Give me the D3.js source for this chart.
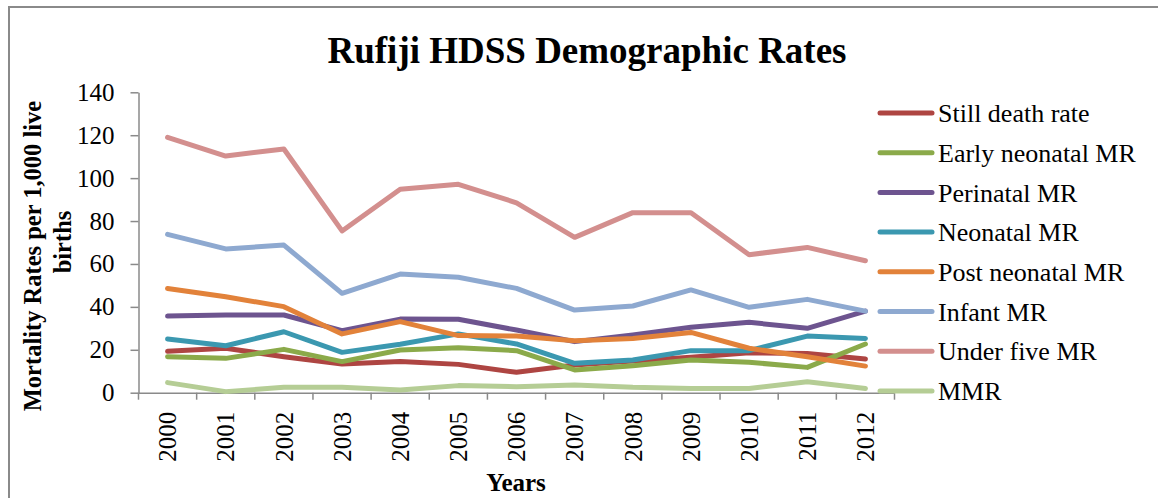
<!DOCTYPE html>
<html><head><meta charset="utf-8">
<script src="https://cdn.jsdelivr.net/npm/d3@7/dist/d3.min.js"></script>
<style>
html,body{margin:0;padding:0;background:#fff;}
svg{display:block;}
svg text{font-family:"Liberation Serif","Times New Roman","DejaVu Serif",serif !important;}
</style></head>
<body>
<svg id="chart" width="1158" height="498"></svg>
<script>
const years = ["2000","2001","2002","2003","2004","2005","2006","2007","2008","2009","2010","2011","2012"];
const seriesNames = ["Still death rate","Early neonatal MR","Perinatal MR","Neonatal MR","Post neonatal MR","Infant MR","Under five MR","MMR"];
const stillDeath   = [19.3,20.7,16.8,13.4,14.5,13.2,9.5,12.9,14.8,16.5,18.6,18.3,15.7];
const earlyNeonatal= [16.8,16.0,20.2,14.5,19.9,21.0,19.6,10.6,12.6,15.2,14.2,11.8,22.7];
const perinatal    = [35.7,36.2,36.2,28.9,34.3,34.2,29.2,23.8,26.9,30.5,32.8,30.0,38.0];
const neonatal     = [25.0,21.9,28.4,18.8,22.6,27.4,22.7,13.7,15.2,19.6,19.6,26.4,25.3];
const postNeonatal = [48.6,44.7,40.1,27.4,33.1,26.6,26.4,24.2,25.3,28.1,20.7,16.8,12.4];
const infant       = [73.8,67.0,68.8,46.3,55.3,53.8,48.6,38.5,40.4,47.9,39.8,43.5,38.0];
const underFive    = [119.0,110.3,113.6,75.4,94.8,97.1,88.5,72.4,83.9,83.9,64.3,67.7,61.5];
const mmr          = [4.7,0.5,2.5,2.5,1.3,3.3,2.8,3.6,2.5,2.0,2.0,5.1,2.0];
const yTicks = [0,20,40,60,80,100,120,140];
const colors = ["#AE4542","#8BAA4A","#6D548F","#3B98B0","#E2823A","#8EA9D0","#D38F8E","#B5CD95"];

const seriesValues = [stillDeath,earlyNeonatal,perinatal,neonatal,postNeonatal,infant,underFive,mmr];
const FONT = "Liberation Serif, Times New Roman, DejaVu Serif, serif";
const svg = d3.select("#chart").attr("font-family",FONT);
const axisColor = "#8a8a8a";

// outer frame
svg.append("rect").attr("x",9).attr("y",7).attr("width",1300).attr("height",700)
  .attr("fill","none").attr("stroke",axisColor).attr("stroke-width",2);

const x = d3.scaleBand().domain(years).range([138.5,894.5]).padding(0);
const y = d3.scaleLinear().domain([0,140]).range([392.7,92.3]);

// title
svg.append("text").attr("x",587).attr("y",63).attr("text-anchor","middle")
  .attr("font-family",FONT).attr("font-weight","bold").attr("font-size",37).text("Rufiji HDSS Demographic Rates");

// y axis
const yAxis = svg.append("g").attr("transform","translate(138.5,0)")
  .call(d3.axisLeft(y).tickValues(yTicks).tickSize(8).tickPadding(16).tickSizeOuter(0))
  .attr("font-family",FONT).attr("font-size",25);
yAxis.select(".domain").attr("stroke",axisColor).attr("stroke-width",1.5);
yAxis.selectAll(".tick line").attr("stroke",axisColor).attr("stroke-width",1.5);
yAxis.selectAll(".tick text").attr("font-size",25).attr("font-family",FONT).attr("fill","#000");

// x axis
const xAxis = svg.append("g").attr("transform","translate(0,392.7)")
  .call(d3.axisBottom(x).tickSize(0).tickFormat(""))
  .attr("font-family",FONT).attr("font-size",25);
xAxis.select(".domain").attr("stroke",axisColor).attr("stroke-width",1.5);
xAxis.selectAll(".tick line").remove();
const bounds = years.map(d=>x(d)).concat([x(years[years.length-1])+x.bandwidth()]);
xAxis.selectAll("line.bt").data(bounds).enter().append("line").attr("class","bt")
  .attr("x1",d=>d).attr("x2",d=>d).attr("y1",0).attr("y2",7)
  .attr("stroke",axisColor).attr("stroke-width",1.5);
xAxis.selectAll("text.yl").data(years).enter().append("text").attr("class","yl")
  .attr("transform",d=>`translate(${x(d)+x.bandwidth()/2},19) rotate(-90)`)
  .attr("text-anchor","end").attr("dy","0.35em").attr("font-family",FONT)
  .attr("font-size",25).attr("fill","#000").text(d=>d);

// axis titles
svg.append("text").attr("transform","translate(41,256) rotate(-90)").attr("text-anchor","middle")
  .attr("font-family",FONT).attr("font-weight","bold").attr("font-size",24.5).text("Mortality Rates per 1,000 live");
svg.append("text").attr("transform","translate(71,242) rotate(-90)").attr("text-anchor","middle")
  .attr("font-family",FONT).attr("font-weight","bold").attr("font-size",24.5).text("births");
svg.append("text").attr("x",516).attr("y",491).attr("text-anchor","middle")
  .attr("font-family",FONT).attr("font-weight","bold").attr("font-size",25).text("Years");

// lines
const line = d3.line().x((d,i)=>x(years[i])+x.bandwidth()/2).y(d=>y(d));
seriesValues.forEach((vals,k)=>{
  svg.append("path").datum(vals).attr("d",line).attr("fill","none")
    .attr("stroke",colors[k]).attr("stroke-width",5)
    .attr("stroke-linejoin","round").attr("stroke-linecap","round");
});

// legend
const lg = svg.append("g").attr("font-family",FONT);
seriesNames.forEach((name,k)=>{
  const ly = 113 + k*39.7;
  lg.append("line").attr("x1",880).attr("x2",932).attr("y1",ly).attr("y2",ly)
    .attr("stroke",colors[k]).attr("stroke-width",5).attr("stroke-linecap","round");
  lg.append("text").attr("x",938).attr("y",ly).attr("dy","0.35em").attr("font-family",FONT)
    .attr("font-size",26).attr("fill","#000").text(name);
});
</script>
</body></html>
